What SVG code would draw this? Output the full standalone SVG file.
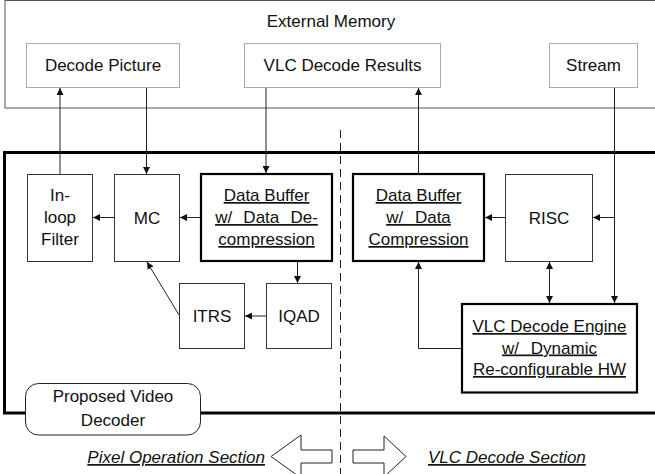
<svg xmlns="http://www.w3.org/2000/svg" width="655" height="474" viewBox="0 0 655 474">
  <defs>
    <marker id="ah" viewBox="0 0 10 10" refX="10" refY="5" markerWidth="7" markerHeight="7" markerUnits="userSpaceOnUse" orient="auto-start-reverse">
      <path d="M0,0 L10,5 L0,10 Z" fill="#111"/>
    </marker>
    <style>
      text { font-family: "Liberation Sans", Arial, sans-serif; font-size: 17px; fill: #111; }
      .c { text-anchor: middle; }
      .u { text-decoration: underline; }
      .i { font-style: italic; }
      .thin { fill: #fff; stroke: #333; stroke-width: 1; }
      .thick { fill: #fff; stroke: #000; stroke-width: 2.2; }
      .dot { fill: #fff; stroke: #555; stroke-width: 1; stroke-dasharray: 1 1; }
      .conn { fill: none; stroke: #222; stroke-width: 1; }
      .hollow { fill: #fff; stroke: #222; stroke-width: 1; }
    </style>
  </defs>

  <rect width="655" height="474" fill="#fff"/>

  <!-- external memory region -->
  <g id="external-memory">
    <rect x="5" y="0.5" width="660" height="107.5" fill="#fff" stroke="#555" stroke-width="1"/>
    <text class="c" x="331" y="26.5">External Memory</text>
  </g>
  <g id="decode-picture">
    <rect class="dot" x="26.5" y="43.5" width="153" height="44"/>
    <text class="c" x="103" y="71">Decode Picture</text>
  </g>
  <g id="vlc-decode-results">
    <rect class="dot" x="244.5" y="43.5" width="196" height="44"/>
    <text class="c" x="342.5" y="71">VLC Decode Results</text>
  </g>
  <g id="stream">
    <rect class="dot" x="549.5" y="43.5" width="88" height="44"/>
    <text class="c" x="593.5" y="71">Stream</text>
  </g>

  <!-- section divider -->
  <line x1="340.5" y1="130" x2="340.5" y2="474" stroke="#222" stroke-width="1" stroke-dasharray="8 5"/>

  <!-- decoder outline -->
  <g id="decoder">
    <rect x="4.5" y="152.5" width="660" height="260.5" fill="none" stroke="#000" stroke-width="3"/>
  </g>

  <g id="inloop-filter">
    <rect class="thin" x="27.5" y="174.5" width="65" height="87"/>
    <text class="c" x="60" y="201">In-</text>
    <text class="c" x="60" y="223">loop</text>
    <text class="c" x="60" y="245">Filter</text>
  </g>
  <g id="mc">
    <rect class="thin" x="114.5" y="174.5" width="65" height="87"/>
    <text class="c" x="147" y="224">MC</text>
  </g>
  <g id="data-buffer-decompression">
    <rect class="thick" x="201" y="174" width="131" height="87"/>
    <text class="c u" x="266.5" y="201">Data Buffer</text>
    <text class="c u" x="266.5" y="223" word-spacing="6.5">w/ Data De-</text>
    <text class="c u" x="266.5" y="245">compression</text>
  </g>
  <g id="itrs">
    <rect class="thin" x="179.5" y="283.5" width="65" height="65"/>
    <text class="c" x="212" y="322">ITRS</text>
  </g>
  <g id="iqad">
    <rect class="thin" x="266.5" y="283.5" width="65" height="65"/>
    <text class="c" x="299" y="322">IQAD</text>
  </g>
  <g id="data-buffer-compression">
    <rect class="thick" x="353" y="174" width="131" height="87"/>
    <text class="c u" x="418.5" y="201">Data Buffer</text>
    <text class="c u" x="418.5" y="223" word-spacing="7">w/ Data</text>
    <text class="c u" x="418.5" y="245">Compression</text>
  </g>
  <g id="risc">
    <rect class="thin" x="505.5" y="174.5" width="87" height="87"/>
    <text class="c" x="549" y="224">RISC</text>
  </g>
  <g id="vlc-decode-engine">
    <rect class="thick" x="462" y="304" width="175" height="88.5"/>
    <text class="c u" x="549.5" y="332">VLC Decode Engine</text>
    <text class="c u" x="549.5" y="353.5" word-spacing="7">w/ Dynamic</text>
    <text class="c u" x="549.5" y="375">Re-configurable HW</text>
  </g>
  <g id="proposed-video-decoder">
    <rect x="25.5" y="383.5" width="175" height="51.5" rx="13" fill="#fff" stroke="#222" stroke-width="1"/>
    <text class="c" x="113" y="402">Proposed Video</text>
    <text class="c" x="113" y="426">Decoder</text>
  </g>

  <!-- connectors -->
  <g id="connectors">
    <line class="conn" x1="60" y1="174" x2="60" y2="88" marker-end="url(#ah)"/>
    <line class="conn" x1="146.5" y1="88" x2="146.5" y2="174" marker-end="url(#ah)"/>
    <line class="conn" x1="266" y1="88" x2="266" y2="173" marker-end="url(#ah)"/>
    <line class="conn" x1="418.5" y1="173" x2="418.5" y2="88" marker-end="url(#ah)"/>
    <line class="conn" x1="614.5" y1="88" x2="614.5" y2="303" marker-end="url(#ah)"/>
    <line class="conn" x1="614.5" y1="217.5" x2="593" y2="217.5" marker-end="url(#ah)"/>
    <line class="conn" x1="505" y1="217.5" x2="485" y2="217.5" marker-end="url(#ah)"/>
    <line class="conn" x1="549.5" y1="262" x2="549.5" y2="303" marker-start="url(#ah)" marker-end="url(#ah)"/>
    <polyline class="conn" points="462,348.5 418.5,348.5 418.5,262" marker-end="url(#ah)"/>
    <line class="conn" x1="200" y1="217.5" x2="180" y2="217.5" marker-end="url(#ah)"/>
    <line class="conn" x1="114" y1="217.5" x2="93" y2="217.5" marker-end="url(#ah)"/>
    <line class="conn" x1="297.5" y1="262" x2="297.5" y2="283" marker-end="url(#ah)"/>
    <line class="conn" x1="266" y1="316" x2="245" y2="316" marker-end="url(#ah)"/>
    <line class="conn" x1="179" y1="315" x2="147" y2="262" marker-end="url(#ah)"/>
  </g>

  <!-- section direction arrows -->
  <g id="pixel-section">
    <polygon class="hollow" points="271,456.5 301,435 301,450 332,450 332,463 301,463 301,478"/>
    <text class="i u" x="265" y="463" text-anchor="end">Pixel Operation Section</text>
  </g>
  <g id="vlc-section">
    <polygon class="hollow" points="353,450 384,450 384,436 406,456.5 384,477 384,463 353,463"/>
    <text class="i u" x="428" y="463">VLC Decode Section</text>
  </g>
</svg>
